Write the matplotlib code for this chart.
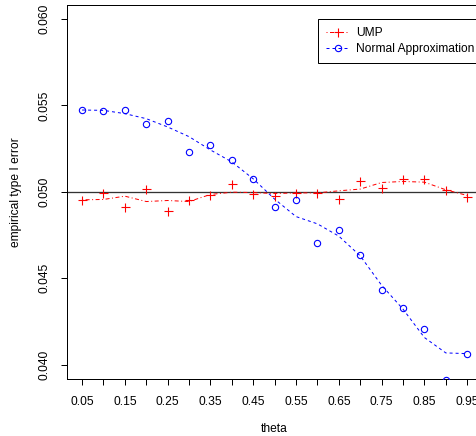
import matplotlib
matplotlib.use('Agg')
import matplotlib.pyplot as plt
from matplotlib.lines import Line2D

theta = [0.05, 0.10, 0.15, 0.20, 0.25, 0.30, 0.35, 0.40, 0.45, 0.50,
         0.55, 0.60, 0.65, 0.70, 0.75, 0.80, 0.85, 0.90, 0.95]
ump = [0.04954, 0.04996, 0.04915, 0.05016, 0.04892, 0.04952, 0.04979, 0.05045, 0.04987, 0.04977,
       0.04996, 0.04992, 0.04958, 0.05064, 0.05025, 0.05073, 0.05077, 0.05012, 0.04973]
ump_smooth = [0.04954, 0.04956, 0.04975, 0.04944, 0.04950, 0.04944, 0.04985, 0.04998, 0.04996, 0.04990,
              0.04994, 0.04994, 0.05006, 0.05016, 0.05054, 0.05060, 0.05056, 0.05012, 0.04979]
normal = [0.05473, 0.05469, 0.05475, 0.05390, 0.05412, 0.05232, 0.05271, 0.05182, 0.05075, 0.04911,
          0.04954, 0.04707, 0.04778, 0.04634, 0.04435, 0.04328, 0.04208, 0.03912, 0.04065]
normal_smooth = [0.05473, 0.05471, 0.05452, 0.05423, 0.05375, 0.05319, 0.05242, 0.05173, 0.05075, 0.04958,
                 0.04857, 0.04815, 0.04744, 0.04630, 0.04460, 0.04322, 0.04158, 0.04069, 0.04065]
xtick_vals = [0.05, 0.10, 0.15, 0.20, 0.25, 0.30, 0.35, 0.40, 0.45, 0.50,
              0.55, 0.60, 0.65, 0.70, 0.75, 0.80, 0.85, 0.90, 0.95]
xtick_labels = ["0.05", "", "0.15", "", "0.25", "", "0.35", "", "0.45", "",
                "0.55", "", "0.65", "", "0.75", "", "0.85", "", "0.95"]
ytick_vals = [0.040, 0.045, 0.050, 0.055, 0.060]
ytick_labels = ["0.040", "0.045", "0.050", "0.055", "0.060"]
series_names = ["UMP", "Normal Approximation"]
ref_level = 0.05

plt.rcParams['font.family'] = ['Liberation Sans', 'DejaVu Sans']
plt.rcParams['font.size'] = 8.64
plt.rcParams['lines.scale_dashes'] = False

DPI = 100
W, H = 476, 436
fig = plt.figure(figsize=(W / DPI, H / DPI), dpi=DPI)
px = 72.0 / DPI  # points per pixel

left, right, top, bottom = 66.7, 482.6, 5.0, 378.7
ax = fig.add_axes([left / W, 1 - bottom / H, (right - left) / W, (bottom - top) / H])
ax.set_xlim(0.014, 0.986)
ax.set_ylim(0.0392, 0.0608)

red = '#FF0000'
blue = '#0000FF'
dash_red = (0, (1 * px, 2.5 * px, 4 * px, 2.5 * px))
dash_blue = (0, (3 * px, 3 * px))

ax.axhline(ref_level, color='#333333', lw=1.3 * px, zorder=1)

ax.plot(theta, ump_smooth, color=red, lw=1 * px, linestyle=dash_red, zorder=2)
ax.plot(theta, normal_smooth, color=blue, lw=1 * px, linestyle=dash_blue, zorder=2)
ax.plot(theta, ump, linestyle='none', marker='+', color=red, markersize=9 * px,
        markeredgewidth=1.1 * px, zorder=3)
ax.plot(theta, normal, linestyle='none', marker='o', markerfacecolor='none',
        markeredgecolor=blue, markersize=6.3 * px, markeredgewidth=1.1 * px, zorder=3)

ax.set_xticks(xtick_vals)
ax.set_xticklabels(xtick_labels)
ax.set_yticks(ytick_vals)
ax.set_yticklabels(ytick_labels, rotation=90, va='center')
ax.tick_params(axis='both', direction='out', length=6 * px, width=1 * px, color='black',
               labelsize=8.64)
ax.tick_params(axis='x', pad=11 * px)
ax.tick_params(axis='y', pad=10 * px)
for s in ax.spines.values():
    s.set_linewidth(1 * px)
    s.set_color('black')

fig.text(274 / W, 1 - 429 / H, "theta", ha='center', va='center', fontsize=8.64)
fig.text(16 / W, 1 - 192 / H, "empirical type I error", ha='center', va='center',
         rotation=90, fontsize=8.64)

handles = [
    Line2D([], [], color=red, lw=1 * px, linestyle=dash_red, marker='+',
           markersize=9 * px, markeredgewidth=1.1 * px),
    Line2D([], [], color=blue, lw=1 * px, linestyle=dash_blue, marker='o',
           markerfacecolor='none', markeredgecolor=blue, markersize=6.3 * px,
           markeredgewidth=1.1 * px),
]
leg = ax.legend(handles, series_names, loc='upper left',
                bbox_to_anchor=(318 / W, 1 - 19 / H), bbox_transform=fig.transFigure,
                borderaxespad=0, fancybox=False, framealpha=1, edgecolor='black',
                handlelength=1.9, handletextpad=0.6, borderpad=0.7,
                labelspacing=0.3, fontsize=8.64)
leg.get_frame().set_linewidth(1 * px)

fig.savefig('out.png', dpi=DPI)
